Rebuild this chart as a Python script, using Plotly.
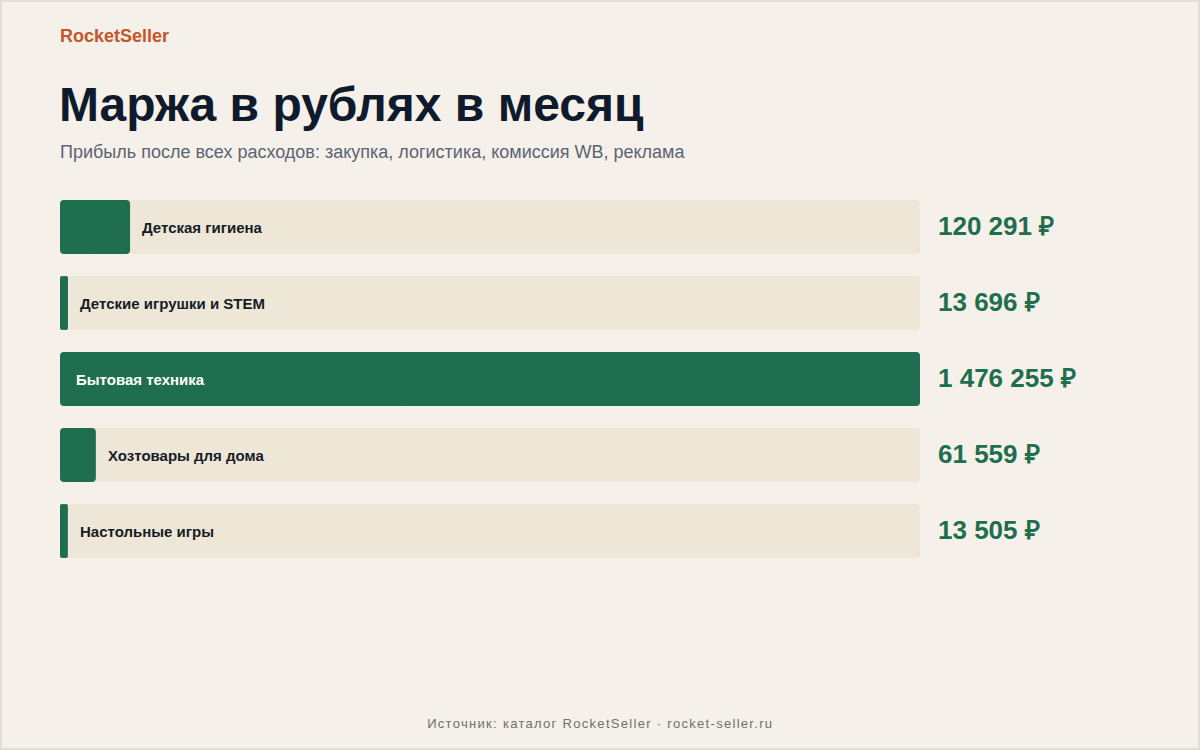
import plotly.graph_objects as go

# ---- data ----
brand = "RocketSeller"
title = "Маржа в рублях в месяц"
subtitle = "Прибыль после всех расходов: закупка, логистика, комиссия WB, реклама"
footer = "Источник: каталог RocketSeller · rocket-seller.ru"
categories = ["Детская гигиена", "Детские игрушки и STEM", "Бытовая техника",
              "Хозтовары для дома", "Настольные игры"]
margins = [120291, 13696, 1476255, 61559, 13505]
value_labels = ["120 291 ₽", "13 696 ₽", "1 476 255 ₽", "61 559 ₽", "13 505 ₽"]

# ---- style ----
W, H = 1200, 750
ML, MR, MT, MB = 60, 280, 189, 181
PW, PH = W - ML - MR, H - MT - MB
BG = "#F5F0E9"
TRACK = "#EEE6D6"
GREEN = "#1E6E4F"
DARK = "#0F1B2D"
SUB = "#5B6472"
BRAND = "#C4562C"
FOOT = "#6F6F6F"
SANS = "Liberation Sans, Arial, sans-serif"


def px(x):
    return (x - ML) / PW


def py(y):
    return 1 - (y - MT) / PH


def rounded_bar(fig, vals, color):
    # two overlapping halves so that both ends get rounded corners
    left_base = [0.6 * v for v in vals]
    right_base = [0.4 * v for v in vals]
    fig.add_trace(go.Bar(
        y=categories, base=left_base, x=[-b for b in left_base], orientation="h",
        marker=dict(color=color, line=dict(width=0), cornerradius=4),
        hoverinfo="skip", showlegend=False,
    ))
    fig.add_trace(go.Bar(
        y=categories, base=right_base, x=[v - b for v, b in zip(vals, right_base)],
        orientation="h",
        marker=dict(color=color, line=dict(width=0), cornerradius=4),
        hoverinfo="skip", showlegend=False,
    ))


vmax = max(margins)
fig = go.Figure()
rounded_bar(fig, [vmax] * len(categories), TRACK)
rounded_bar(fig, margins, GREEN)

ann = []
for cat, v, lab in zip(categories, margins, value_labels):
    inside = v / vmax > 0.5
    ann.append(dict(
        x=0 if inside else v, y=cat, xref="x", yref="y",
        xanchor="left", yanchor="middle", xshift=14 if inside else 10,
        text=cat, showarrow=False,
        font=dict(family=SANS, size=15, color="#FFFFFF" if inside else "#161C28", weight="bold"),
    ))
    ann.append(dict(
        x=1, y=cat, xref="paper", yref="y", xanchor="left", yanchor="middle",
        xshift=16, yshift=1, text=lab, showarrow=False,
        font=dict(family=SANS, size=26, color=GREEN, weight="bold"),
    ))

ann += [
    dict(x=px(58), y=py(36), xref="paper", yref="paper", xanchor="left", yanchor="middle",
         text=brand, showarrow=False,
         font=dict(family=SANS, size=18, color=BRAND, weight="bold")),
    dict(x=px(57), y=py(104), xref="paper", yref="paper", xanchor="left", yanchor="middle",
         text=title, showarrow=False,
         font=dict(family=SANS, size=48, color=DARK, weight="bold")),
    dict(x=px(58), y=py(152), xref="paper", yref="paper", xanchor="left", yanchor="middle",
         text=subtitle, showarrow=False,
         font=dict(family=SANS, size=18, color=SUB)),
    dict(x=px(600), y=py(723), xref="paper", yref="paper", xanchor="center", yanchor="middle",
         text=footer, showarrow=False,
         font=dict(family=SANS, size=13, color=FOOT)),
]

fig.update_layout(
    width=W, height=H,
    margin=dict(l=ML, r=MR, t=MT, b=MB, pad=0),
    paper_bgcolor=BG, plot_bgcolor=BG,
    barmode="overlay", bargap=22 / 76,
    xaxis=dict(range=[0, vmax], visible=False, fixedrange=True),
    yaxis=dict(categoryorder="array", categoryarray=categories, autorange="reversed",
               visible=False, fixedrange=True),
    annotations=ann,
    shapes=[dict(type="rect", xref="paper", yref="paper",
                 x0=px(1), x1=px(W - 1), y0=py(1), y1=py(H - 1),
                 line=dict(color="#E2DDD5", width=2), fillcolor="rgba(0,0,0,0)", layer="above")],
    hovermode=False,
)

post = """
document.querySelectorAll('.annotation-text').forEach(function(t){
  if (t.textContent.indexOf('Источник') === 0) { t.setAttribute('letter-spacing', '1.3px'); }
});
"""
fig.write_html("out.html", config={"displayModeBar": False, "staticPlot": True}, post_script=post)
